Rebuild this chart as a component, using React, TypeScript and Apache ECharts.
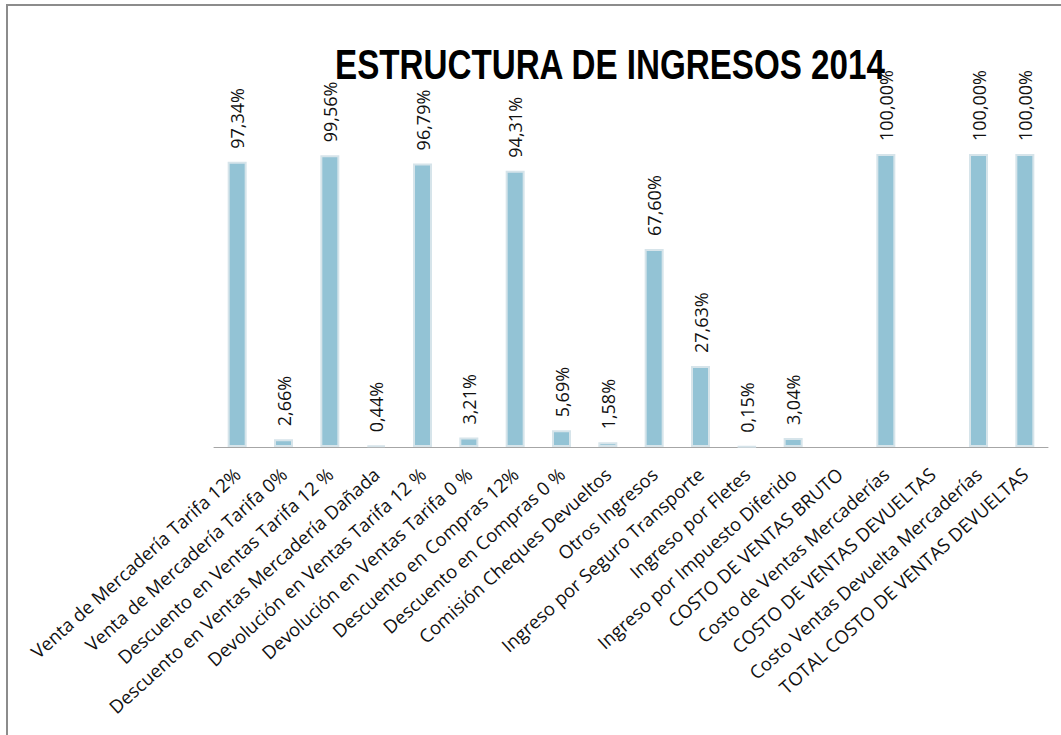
import React, { useEffect, useRef } from "react";
import * as echarts from "echarts";

const categories: string[] = [
  "Venta de Mercadería Tarifa 12%",
  "Venta de Mercadería Tarifa 0%",
  "Descuento en Ventas Tarifa 12 %",
  "Descuento en Ventas Mercadería Dañada",
  "Devolución en Ventas Tarifa 12 %",
  "Devolución en Ventas Tarifa 0 %",
  "Descuento en Compras 12%",
  "Descuento en Compras 0 %",
  "Comisión Cheques Devueltos",
  "Otros Ingresos",
  "Ingreso por Seguro Transporte",
  "Ingreso por Fletes",
  "Ingreso por Impuesto Diferido",
  "COSTO DE VENTAS BRUTO",
  "Costo de Ventas Mercaderías",
  "COSTO DE VENTAS DEVUELTAS",
  "Costo Ventas Devuelta Mercaderías",
  "TOTAL COSTO DE VENTAS DEVUELTAS",
];

const percentages: (number | null)[] = [
  97.34, 2.66, 99.56, 0.44, 96.79, 3.21, 94.31, 5.69, 1.58, 67.6, 27.63, 0.15,
  3.04, null, 100, null, 100, 100,
];

const titleText = "ESTRUCTURA DE INGRESOS 2014";

export default function App() {
  const ref = useRef<HTMLDivElement>(null);
  useEffect(() => {
    if (!ref.current) return;
    const chart = echarts.init(ref.current, null, { renderer: "svg" });
    chart.setOption({
      animation: false,
      backgroundColor: "#ffffff",
      grid: { left: 214, right: 13, top: 154, bottom: 288, containLabel: false },
      xAxis: {
        type: "category",
        data: categories,
        axisLine: { show: true, lineStyle: { color: "#a6a6a6", width: 1 } },
        axisTick: { show: false },
        axisLabel: {
          interval: 0,
          rotate: 42,
          margin: 24,
          fontFamily: "Open Sans",
          fontSize: 18.5,
          color: "#111111",
        },
      },
      yAxis: {
        type: "value",
        min: 0,
        max: 100,
        show: false,
        splitLine: { show: false },
      },
      series: [
        {
          type: "bar",
          data: percentages.map((v) => (v === null ? "-" : v)),
          barWidth: 19,
          itemStyle: { color: "#93c3d5", borderColor: "#d6e4ea", borderWidth: 2 },
          label: {
            show: true,
            position: "top",
            rotate: 90,
            align: "left",
            verticalAlign: "middle",
            distance: 13,
            fontFamily: "Open Sans",
            fontSize: 18,
            color: "#111111",
            formatter: (p: any) =>
              typeof p.value === "number" ? p.value.toFixed(2).replace(".", ",") + "%" : "",
          },
        },
      ],
      graphic: [
        {
          type: "rect",
          silent: true,
          z: -10,
          shape: { x: 7, y: 5, width: 1100, height: 800 },
          style: { fill: "none", stroke: "#8c8c8c", lineWidth: 2 },
        },
        {
          type: "text",
          x: 610,
          y: 65,
          scaleX: 0.79,
          style: {
            text: titleText,
            fontFamily: "Liberation Sans",
            fontWeight: "bold",
            fontSize: 42,
            fill: "#000000",
            align: "center",
            verticalAlign: "middle",
            textAlign: "center",
            textVerticalAlign: "middle",
          },
        },
      ],
    });
    return () => chart.dispose();
  }, []);
  return (
    <div
      ref={ref}
      style={{ position: "fixed", left: 0, top: 0, width: 1061, height: 735 }}
    />
  );
}
